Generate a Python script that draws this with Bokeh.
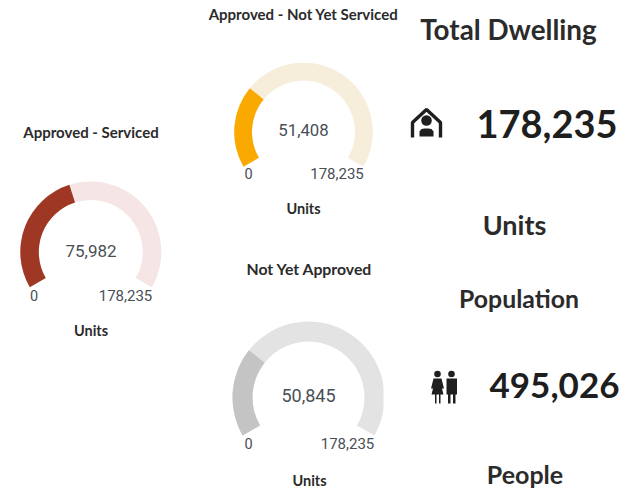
import math
from bokeh.plotting import figure
from bokeh.models import Range1d
from bokeh.core.properties import value
from bokeh.embed import file_html
from bokeh.resources import INLINE

# Data
gauge_titles = ["Approved - Serviced", "Approved - Not Yet Serviced", "Not Yet Approved"]
gauge_values = [75982, 51408, 50845]
gauge_max = 178235
gauge_unit = "Units"
total_dwelling = 178235
population = 495026

# Layout and style
W, H = 631, 489
cx = [90.3, 303, 308]
cy = [251.5, 131.5, 397]
outer = [70.5, 69.3, 76]
inner = [52, 51.5, 56]
dark = ["#9e3723", "#f9a900", "#c4c4c4"]
light = ["#f5e6e5", "#f6eddb", "#e3e3e3"]
title_pos = [(90.5, 131.5), (303, 13.5), (309, 267.5)]
title_size = [15, 15, 15.8]
value_pos = [(90.5, 250), (303, 129.5), (308, 395)]
value_size = [17, 16.8, 18]
unit_pos = [(90.5, 329.5), (303, 207.5), (309, 480)]
zero_pos = [(33.5, 294.5), (248, 172.5), (248, 442.5)]
max_pos = [(125, 294.5), (336.5, 172.5), (347, 442.5)]
start_deg, sweep_deg = 210, 240

p = figure(width=W, height=H, output_backend="svg", toolbar_location=None,
           x_range=Range1d(0, W), y_range=Range1d(0, H),
           min_border=0, outline_line_color=None, background_fill_color="white")
p.axis.visible = False
p.grid.visible = False


def up(y):
    return H - y


def label(x, y, s, size, color="#2b2b2b", font="Lato", style="bold", align="center"):
    p.text([x], [up(y)], text=[s], text_font=value(font), text_font_size=f"{size}px",
           text_font_style=style, text_color=color, text_align=align, text_baseline="middle")


for i, v in enumerate(gauge_values):
    end_deg = start_deg - sweep_deg * v / gauge_max
    p.annular_wedge([cx[i]], [up(cy[i])], inner_radius=inner[i], outer_radius=outer[i],
                    start_angle=math.radians(start_deg - sweep_deg),
                    end_angle=math.radians(start_deg), color=light[i], line_color=None)
    p.annular_wedge([cx[i]], [up(cy[i])], inner_radius=inner[i], outer_radius=outer[i],
                    start_angle=math.radians(end_deg),
                    end_angle=math.radians(start_deg), color=dark[i], line_color=None)

# the third gauge is cut off on its right in the reference
p.quad(left=[383], right=[392], bottom=[up(470)], top=[up(310)], color="white", line_color=None)

for i, v in enumerate(gauge_values):
    label(title_pos[i][0], title_pos[i][1], gauge_titles[i], title_size[i])
    label(value_pos[i][0], value_pos[i][1], f"{v:,}", value_size[i], color="#4a4f55", font="Roboto", style="normal")
    label(zero_pos[i][0], zero_pos[i][1], "0", 14.5, color="#4a4f55", font="Roboto", style="normal")
    label(max_pos[i][0], max_pos[i][1], f"{gauge_max:,}", 15, color="#4a4f55", font="Roboto", style="normal")
    label(unit_pos[i][0], unit_pos[i][1], gauge_unit, 14.5)

label(508, 28.5, "Total Dwelling", 27.8)
label(546.5, 123, f"{total_dwelling:,}", 38, color="#1e1e1e")
label(514, 223.5, "Units", 27)
label(518.5, 298, "Population", 24.8)
label(554, 385, f"{population:,}", 35, color="#1e1e1e")
label(524.5, 473.5, "People", 25)

# house icon
ink = "#1f1f1f"
p.line([412, 412, 426, 440, 440], [up(137), up(122), up(109), up(122), up(137)], line_color=ink, line_width=3.4)
p.circle([426], [up(120)], radius=5.3, color=ink, line_color=None)
p.patch([419, 419, 421, 424, 428, 431, 433, 433], [up(136), up(131), up(128.5), up(128), up(128), up(128.5), up(131), up(136)], color=ink, line_color=None)

# people icons
p.circle([437, 451], [up(373.5), up(373.5)], radius=3.3, color=ink, line_color=None)
p.patch([433, 441, 443.5, 441.5, 443, 431, 432.5, 430.5],
        [up(378), up(378), up(388), up(388), up(394), up(394), up(388), up(388)], color=ink, line_color=None)
p.quad(left=[434.5, 438.5], right=[436, 440], bottom=[up(403), up(403)], top=[up(393), up(393)], color=ink, line_color=None)
p.quad(left=[446], right=[456.5], bottom=[up(394)], top=[up(378)], color=ink, line_color=None)
p.quad(left=[447.5, 452.5], right=[450, 455], bottom=[up(403), up(403)], top=[up(393), up(393)], color=ink, line_color=None)

open("out.html", "w").write(file_html(p, INLINE))
